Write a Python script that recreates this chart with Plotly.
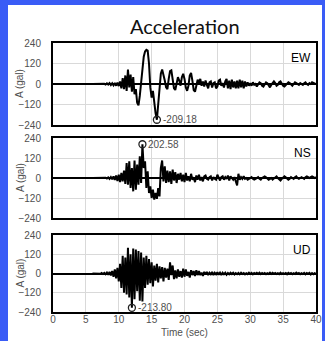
import plotly.graph_objects as go
import numpy as np

# sampling of the records (s)
T0 = 6.0
DT = 0.2

# acceleration records (gal), samples from 6.0 s to 40.0 s
EW = [0, 0, 0, 0, 0, 1, -1, 2, -2, 1,
      -3, 4, -3, 5, -6, 4, -8, 6, -10, 8,
      -12, 15, -25, 35, -30, 50, -40, 85, -20, 55,
      -45, 40, -60, -30, -110, -125, -70, 20, 90, 160,
      190, 200, 195, 120, -20, -80, -40, -110, -170, -209.18,
      -120, -20, 60, 85, 60, 20, -20, -30, 30, 75,
      80, 30, -25, -35, 10, 40, 20, -10, 40, 60,
      30, -20, -40, -10, 50, 65, 20, -35, -45, -10,
      25, 5, 30, -10, 15, -15, 20, -5, -25, 10,
      15, -20, 5, 10, -25, -15, 20, 25, -10, 5,
      -20, 15, 30, -25, 20, -30, 25, -20, 15, -25,
      20, -25, 25, -20, 20, -25, 15, -15, 10, -10,
      5, -10, 10, -5, 0, -15, -5, 10, 5, -10,
      -15, -5, 10, 5, -10, -20, -5, 5, 15, 5,
      -10, -5, 10, 15, 0, -10, -15, -5, 5, 10,
      5, -5, -10, 0, 10, 5, 0, -5, 5, 0,
      -5, 5, 10, 0, -5, 5, 0, 10, 5, 0,
      0]

NS = [0, 0, 0, 0, 0, 0, 0, 0, 1, -1,
      2, -3, 4, -5, 6, -8, 10, -12, 15, -18,
      20, -25, 30, -20, 45, -35, 90, -40, 100, -60,
      60, -80, 105, -70, 80, -40, 130, -30, 202.58, 60,
      100, -60, 40, -90, -50, -120, -70, -130, -90, -125,
      -60, -110, 60, 105, -20, 70, -30, 45, -25, 40,
      -35, 50, -15, 35, -30, 25, -10, 30, -20, 20,
      -25, 30, -15, 10, -20, 25, -10, 5, -25, 15,
      -10, 20, -15, 5, -20, 10, 15, -5, -10, 5,
      10, -15, 5, -5, -10, 20, 0, -15, 5, 10,
      -10, 5, -5, 15, -15, 10, 0, -10, 5, -20,
      -45, 25, -10, 5, -5, 10, -5, 0, -10, -5,
      0, 5, -5, -10, -5, 0, 5, -5, -10, 0,
      5, 10, 5, -5, -10, -5, 0, -10, -5, 5,
      10, 0, -10, -15, -5, 5, 10, 5, -5, -10,
      -5, 5, 0, -5, 5, 10, 0, -5, 0, 5,
      0, -5, 5, 10, 5, 0, 5, 10, 5, 0,
      5]

UD = [0, 0, 0, 0, 0, 1, -2, 3, -3, 4,
      -5, 6, -8, 10, -12, 15, -20, 25, -30, 35,
      -50, 60, -90, 110, -120, 100, -130, 160, -150, 120,
      -213.8, 155, -160, 150, -110, 140, -170, 130, -175, 100,
      -90, 110, -70, 90, -60, 70, -80, 50, -45, 60,
      -55, 45, -30, 40, -50, 35, -25, 30, -40, 70,
      -10, 50, -35, 20, -30, 25, -20, 15, -25, 30,
      -20, 25, -15, 10, -25, 20, -10, 15, -15, 20,
      -10, 15, -10, 5, -15, 10, -5, 10, -10, 5,
      -5, 10, -10, 5, -5, 8, -8, 5, -10, 5,
      -5, 5, -8, 3, -5, 5, -3, 5, -6, 3,
      -4, 4, -5, 5, -3, 3, -5, 2, -4, 5,
      -3, 4, -5, 3, -2, 4, -3, 5, -4, 3,
      -2, 3, -4, 2, -3, 5, -3, 4, -2, 3,
      -3, 2, -4, 5, -3, 2, -2, 3, -5, 4,
      -2, 3, -4, 2, -3, 5, -2, 3, -4, 2,
      -3, 4, -5, 3, -2, 4, -6, 3, -4, 2,
      -3]

components = ["EW", "NS", "UD"]
records = [EW, NS, UD]
y_ticks = [240, 120, 0, -120, -240]
x_ticks = [0, 5, 10, 15, 20, 25, 30, 35, 40]

W, H = 325, 341
L, R, T, B = 53, 9, 43, 29
pw, ph = W - L - R, H - T - B
domains = [((312 - 125) / ph, 1.0), ((312 - 218) / ph, (312 - 138) / ph), (0.0, (312 - 235) / ph)]

BLUE = "rgb(58,92,246)"
GRID = "#d9d9d9"
TXT = "#505050"
FONT = "Liberation Sans"


def px_x(p):
    return (p - L) / pw


def px_y(p):
    return (H - B - p) / ph


fig = go.Figure()
layout = dict(
    width=W, height=H,
    margin=dict(l=L, r=R, t=T, b=B, pad=0, autoexpand=False),
    paper_bgcolor="white", plot_bgcolor="white",
    showlegend=False,
    font=dict(family=FONT, size=10, color=TXT),
)
annotations = []

for i, (name, vals) in enumerate(zip(components, records)):
    n = i + 1
    xa = "x" if n == 1 else f"x{n}"
    ya = "y" if n == 1 else f"y{n}"
    fig.add_trace(go.Scatter(y=vals, x0=T0, dx=DT, mode="lines",
                             line=dict(color="black", width=2),
                             xaxis=xa, yaxis=ya, hoverinfo="skip"))
    arr = np.array(vals, dtype=float)
    k = int(np.argmax(np.abs(arr)))
    tp = T0 + DT * k
    vp = arr[k]
    fig.add_trace(go.Scatter(x=[tp], y=[vp], mode="markers",
                             marker=dict(symbol="circle-open", size=7,
                                         color="#222", line=dict(width=1.3)),
                             xaxis=xa, yaxis=ya, hoverinfo="skip"))
    annotations.append(dict(x=tp, y=vp, xref=xa, yref=ya, text=f"{vp:.2f}",
                            showarrow=False, xanchor="left", yanchor="middle",
                            xshift=4, font=dict(family=FONT, size=10, color=TXT)))
    annotations.append(dict(x=1, y=1, xref=f"{xa} domain", yref=f"{ya} domain",
                            text=name, showarrow=False, xanchor="right", yanchor="top",
                            xshift=-3, yshift=-6,
                            font=dict(family=FONT, size=12, color="black")))
    d0, d1 = domains[i]
    annotations.append(dict(x=px_x(20), y=(d0 + d1) / 2, xref="paper", yref="paper",
                            text="A (gal)", textangle=-90, showarrow=False,
                            xanchor="center", yanchor="middle",
                            font=dict(family=FONT, size=10, color=TXT)))
    bottom = (n == 3)
    layout["xaxis" if n == 1 else f"xaxis{n}"] = dict(
        domain=[0, 1], anchor=ya, range=[0, 40], tickvals=x_ticks,
        showticklabels=bottom, showgrid=True, gridcolor=GRID, gridwidth=1,
        showline=True, mirror=True, linecolor="black", linewidth=2,
        ticks="", ticklabelstandoff=-3,
        zeroline=False, tickfont=dict(family=FONT, size=10, color=TXT),
        automargin=False,
    )
    layout["yaxis" if n == 1 else f"yaxis{n}"] = dict(
        domain=[d0, d1], anchor=xa, range=[-240, 240], tickvals=y_ticks,
        showgrid=True, gridcolor=GRID, gridwidth=1,
        showline=True, mirror=True, linecolor="black", linewidth=2,
        zeroline=True, zerolinecolor="black", zerolinewidth=2,
        ticks="outside", ticklen=8, tickcolor="rgba(0,0,0,0)",
        tickfont=dict(family=FONT, size=10, color=TXT), automargin=False,
    )

annotations.append(dict(x=0.5, y=px_y(332), xref="paper", yref="paper",
                        text="Time (sec)", showarrow=False, xanchor="center", yanchor="middle",
                        font=dict(family=FONT, size=10, color=TXT)))
annotations.append(dict(x=0.5, y=px_y(26), xref="paper", yref="paper",
                        text="Acceleration", showarrow=False, xanchor="center", yanchor="middle",
                        font=dict(family="Lato", size=20, color="#111")))
layout["annotations"] = annotations

layout["shapes"] = [
    dict(type="rect", xref="paper", yref="paper", x0=px_x(-2), x1=px_x(8),
         y0=px_y(H + 2), y1=px_y(-2), fillcolor=BLUE, line=dict(width=0), layer="below"),
    dict(type="rect", xref="paper", yref="paper", x0=px_x(-2), x1=px_x(W + 2),
         y0=px_y(5), y1=px_y(-2), fillcolor=BLUE, line=dict(width=0), layer="below"),
    dict(type="rect", xref="paper", yref="paper", x0=px_x(322), x1=px_x(W + 2),
         y0=px_y(H + 2), y1=px_y(-2), fillcolor=BLUE, line=dict(width=0), layer="below"),
]
fig.update_layout(**layout)
fig.write_html("out.html")
